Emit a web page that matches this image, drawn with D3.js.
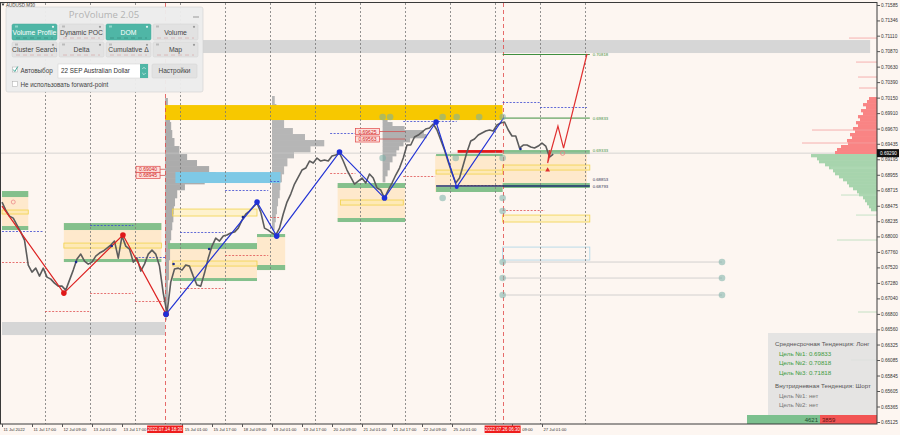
<!DOCTYPE html>
<html><head><meta charset="utf-8">
<script src="https://cdn.jsdelivr.net/npm/d3@7"></script>
<style>
body{margin:0;background:#fff;}
svg{display:block;font-family:"Liberation Sans","DejaVu Sans",Arial,sans-serif;}
</style>
</head><body>
<svg id="c" width="900" height="435"></svg>
<script>
// ---------------- DATA ----------------
const yTicks = [0.71585,0.71346,0.71110,0.70870,0.70630,0.70390,0.70150,0.69910,0.69670,0.69435,0.69195,0.68955,0.68715,0.68475,0.68235,0.68000,0.67760,0.67520,0.67280,0.67040,0.66800,0.66560,0.66325,0.66085,0.65845,0.65605,0.65365,0.65125];
const xLabelBars = [0,32,64,96,128,192,224,256,288,320,352,384,416,448,480,544,576];
const xLabels = ["11 Jul 2022","11 Jul 17:00","12 Jul 09:00","13 Jul 01:00","13 Jul 17:00","15 Jul 01:00","15 Jul 17:00","18 Jul 09:00","19 Jul 01:00","19 Jul 17:00","20 Jul 09:00","21 Jul 01:00","21 Jul 17:00","22 Jul 09:00","25 Jul 01:00","26 Jul 09:00","27 Jul 01:00"];
const daySeparatorBars = [46,94,142,190,238,286,334,382,430,478,526,574,622];
const highlightBars = [174,534];
const highlightLabels = ["2022.07.14 18:30","2022.07.26 06:30"];
const barStep = 4;
const priceClose = [0.68532,0.68408,0.68315,0.68284,0.68176,0.68067,0.67943,0.67556,0.67447,0.67509,0.67385,0.67509,0.67370,0.67339,0.67277,0.67230,0.67230,0.67168,0.67323,0.67478,0.67649,0.67726,0.67618,0.67571,0.67602,0.67695,0.67742,0.67773,0.67819,0.67866,0.67928,0.67664,0.68005,0.67850,0.67804,0.67602,0.67664,0.67463,0.67571,0.67726,0.67788,0.67726,0.67540,0.67122,0.66811,0.67292,0.67494,0.67509,0.67478,0.67556,0.67540,0.67385,0.67246,0.67230,0.67432,0.67664,0.67850,0.67974,0.67928,0.68005,0.68021,0.68052,0.68067,0.68129,0.68253,0.68346,0.68393,0.68455,0.68517,0.68377,0.68129,0.68098,0.68052,0.68021,0.68129,0.68346,0.68532,0.68656,0.68811,0.68920,0.69028,0.69059,0.69168,0.69137,0.69214,0.69168,0.69183,0.69168,0.69245,0.69261,0.69292,0.69168,0.69028,0.68920,0.68811,0.68858,0.68904,0.68827,0.68966,0.68904,0.68749,0.68718,0.68594,0.68718,0.68827,0.68951,0.69059,0.69214,0.69416,0.69416,0.69540,0.69571,0.69617,0.69664,0.69679,0.69741,0.69648,0.69493,0.69338,0.69152,0.68982,0.68827,0.68904,0.69106,0.69307,0.69478,0.69509,0.69571,0.69602,0.69633,0.69648,0.69633,0.69726,0.69757,0.69772,0.69648,0.69555,0.69555,0.69369,0.69416,0.69416,0.69385,0.69369,0.69400,0.69447,0.69400,0.69230,0.69276];
const currentPrice = 0.69290;

const zzRedBars = [0,66,129,175];
const zzRedPrices = [0.68470,0.67122,0.68021,0.66796];
const zzBlueBars = [175,272,293,360,408,463,485,535];
const zzBluePrices = [0.66796,0.68532,0.68005,0.69307,0.68594,0.69772,0.68765,0.69834];
const forecastBars = [584,582,593,599,624];
const forecastPrices = [0.69338,0.69137,0.69710,0.69369,0.70826];
const smallDotBars = [79,117,183,221,257,553];
const smallDotPrices = [0.67603,0.67851,0.67572,0.67804,0.68300,0.69354];

const targetLevels = [0.70818,0.69833,0.69333,0.68853,0.68793];
const targetLabels = ["0.70818","0.69833","0.69333","0.68853","0.68793"];

// zones: [barStart, barEnd, priceTop, priceBottom]
const grayBands = [[174,926,0.71042,0.70841],[0,174,0.66674,0.66472]];
const peachZones = [[0,28,0.68703,0.68114],[66,170,0.68207,0.67603],[177,272,0.67866,0.67324],[272,302,0.68006,0.67479],[358,430,0.68796,0.68238],[462,534,0.69261,0.68688],[534,624,0.69292,0.68781]];
const greenBands = [[0,28,0.68703,0.68610],[0,28,0.68161,0.68099],[66,170,0.68207,0.68099],[66,170,0.67650,0.67603],[177,272,0.67897,0.67804],[182,272,0.67355,0.67309],[272,302,0.68037,0.67990],[272,302,0.67557,0.67479],[358,430,0.68827,0.68750],[358,430,0.68285,0.68223],[463,534,0.68765,0.68688],[463,534,0.69276,0.69245],[534,627,0.69338,0.69276],[534,627,0.68827,0.68750]];
const yellowBoxes = [[0,28,0.68409,0.68347],[66,170,0.67897,0.67820],[182,272,0.68424,0.68316],[182,272,0.67619,0.67541],[361,428,0.68564,0.68486],[463,534,0.69028,0.68966],[534,627,0.69106,0.69028],[534,627,0.68331,0.68223]];
const blueBoxes = [[534,627,0.67835,0.67634]];
const goldBands = [[174,534,0.70035,0.69803]];
const skyBands = [[185,297,0.68997,0.68827]];
const redBars = [[486,534,0.69338,0.69292]];
const navyLines = [[463,627,0.68781]];

// dotted day high/low lines: [barStart, barEnd, price]
const dotBlue = [[0,44,0.68083],[94,140,0.68176],[142,175,0.67681],[190,236,0.68068],[238,284,0.68719],[286,297,0.68858],[350,377,0.69602],[428,485,0.69788],[534,574,0.70082],[574,624,0.70004]];
const dotRed = [[0,30,0.67603],[46,94,0.66844],[94,140,0.67123],[142,175,0.66999],[190,236,0.67200],[238,284,0.67712],[286,297,0.68300],[350,377,0.68982],[428,462,0.68935],[485,534,0.68796],[534,579,0.68409]];

// circle markers
const circleBars = [406,414,470,485,509,534,406,484,534,470,534,534,534,768,534,768,534,768];
const circlePrices = [0.69849,0.69849,0.69849,0.69849,0.69849,0.69849,0.69214,0.69214,0.69214,0.68595,0.68595,0.68393,0.67603,0.67603,0.67355,0.67355,0.67092,0.67092];
const gridLinePrices = [0.67603,0.67355,0.67092];

// volume profiles
const prof1Base = 174;
const prof1Levels = [0.70144,0.70020,0.69896,0.69772,0.69648,0.69524,0.69400,0.69276,0.69183,0.69090,0.68997,0.68904,0.68811,0.68719,0.68595,0.68471,0.68347,0.68223,0.68099,0.67944,0.67790,0.67635,0.67480,0.67325,0.67170,0.67015,0.66860];
const prof1Vol = [5,7,9,11,13,17,26,40,58,80,92,72,36,22,18,16,15,13,11,9,9,7,7,5,5,4,3];
const prof2Base = 288;
const prof2Levels = [0.70175,0.70051,0.69927,0.69803,0.69679,0.69586,0.69493,0.69400,0.69307,0.69214,0.69090,0.68966,0.68843,0.68719,0.68595,0.68471,0.68347,0.68223];
const prof2Vol = [5,8,13,22,38,60,95,70,40,28,22,18,15,14,11,9,7,5];
const prof3Base = 406;
const prof3Levels = [0.69834,0.69772,0.69710,0.69648,0.69586,0.69524,0.69462,0.69400,0.69338,0.69245,0.69152,0.69028,0.68935];
const prof3Vol = [9,18,40,75,80,50,38,30,25,18,13,9,5];

// price labels
const priceTags = ["0.69625","0.69563","0.69040","0.68945"];
const priceTagValues = [0.69625,0.69563,0.69040,0.68945];
const priceTagBars = [377,377,143,143];

// DOM (order book) on the right
const askLevels = [0.70159,0.70113,0.70066,0.70020,0.69973,0.69927,0.69880,0.69834,0.69787,0.69741,0.69695,0.69648,0.69602,0.69555,0.69509,0.69462,0.69416,0.69370,0.69323];
const askVol = [16,20,28,22,32,28,38,34,42,38,48,44,54,50,60,58,72,80,84];
const bidLevels = [0.69276,0.69230,0.69183,0.69137,0.69090,0.69044,0.68997,0.68951,0.68904,0.68858,0.68811,0.68765,0.68719,0.68672,0.68626,0.68579,0.68533,0.68486,0.68440];
const bidVol = [132,120,116,104,96,88,84,76,68,60,56,48,40,36,28,24,20,16,12];
const askThinLevels = [0.71073,0.70701,0.70469,0.70299,0.69648,0.69447];
const askThinVol = [56,42,38,36,130,150];
const bidThinLevels = [0.69059,0.68641,0.68331,0.67944,0.66829,0.66085];
const bidThinVol = [92,72,42,80,38,52];

const infoLines = ["Среднесрочная Тенденция: Лонг","Цель №1: 0.69833","Цель №2: 0.70818","Цель №3: 0.71818","Внутридневная Тенденция: Шорт","Цель №1: нет","Цель №2: нет"];
const infoKinds = ["head","target","target","target","head","none","none"];
const buyCount = "4621", sellCount = "3859";

const panelTitle = "ProVolume 2.05";
const buttonsRow1 = ["Volume Profile","Dynamic POC","DOM","Volume"];
const buttonsRow2 = ["Cluster Search","Delta","Cumulative Δ","Map"];
const buttonsActive1 = [true,false,true,false];
const instrument = "22 SEP Australian Dollar";

// ---------------- CHART ----------------
const svg = d3.select("#c");
const W = 900, H = 435;
const plotL = 0, plotR = 877, plotT = 3, plotB = 424;
const x = d3.scaleLinear().domain([0,932]).range([2,875.75]);
const y = d3.scaleLinear().domain([0.65125,0.71585]).range([422,5]);
const vol = d3.scaleLinear().domain([0,100]).range([0,55]);
const domVol = d3.scaleLinear().domain([0,100]).range([0,50]);

svg.append("rect").attr("width",W).attr("height",H).attr("fill","#fdf6f1");

const defs = svg.append("defs");
defs.append("clipPath").attr("id","plot")
  .append("rect").attr("x",plotL).attr("y",plotT).attr("width",plotR-plotL).attr("height",plotB-plotT);
const g = svg.append("g").attr("clip-path","url(#plot)");

function zones(data, fill, stroke, sw){
  g.append("g").selectAll("rect").data(data).join("rect")
    .attr("x",d=>x(d[0])).attr("width",d=>x(d[1])-x(d[0]))
    .attr("y",d=>y(d[2])).attr("height",d=>Math.max(1,y(d[3])-y(d[2])))
    .attr("fill",fill).attr("stroke",stroke||"none").attr("stroke-width",sw||0);
}

zones(grayBands,"#d6d6d6");
zones(peachZones,"rgba(255,214,150,0.4)");

// profiles
function profile(base, levels, vols, fill){
  const gg = g.append("g");
  levels.forEach((lv,i)=>{
    const y0 = y(lv);
    const y1 = i<levels.length-1 ? y(levels[i+1]) : y0 + (y0 - y(levels[i-1]));
    gg.append("rect").attr("x",x(base)).attr("y",y0).attr("width",vol(vols[i]))
      .attr("height",y1-y0+0.3).attr("fill",fill);
  });
}
profile(prof1Base,prof1Levels,prof1Vol,"#acacac");
profile(prof2Base,prof2Levels,prof2Vol,"#b6b6b6");
profile(prof3Base,prof3Levels,prof3Vol,"#b0b0b0");

zones(greenBands,"#84c08c");
zones(yellowBoxes,"rgba(255,236,140,0.35)","#f2d24a",0.8);
zones(blueBoxes,"none","#a9d4e8",0.8);
zones(goldBands,"#f7c800");
zones(skyBands,"#7ec9e6");
zones(redBars,"#e41818");

// day separators
g.append("g").selectAll("line").data(daySeparatorBars).join("line")
  .attr("x1",d=>Math.round(x(d))+0.5).attr("x2",d=>Math.round(x(d))+0.5)
  .attr("y1",plotT).attr("y2",plotB).attr("stroke","#777").attr("stroke-width",0.8)
  .attr("stroke-dasharray","2,2");
g.append("g").selectAll("line").data(highlightBars).join("line")
  .attr("x1",d=>Math.round(x(d))+0.5).attr("x2",d=>Math.round(x(d))+0.5)
  .attr("y1",plotT).attr("y2",plotB).attr("stroke","#e04848").attr("stroke-width",0.8)
  .attr("stroke-dasharray","4,3");

// dotted day lines
function dotted(data,color){
  g.append("g").selectAll("line").data(data).join("line")
    .attr("x1",d=>x(d[0])).attr("x2",d=>x(d[1]))
    .attr("y1",d=>Math.round(y(d[2]))+0.5).attr("y2",d=>Math.round(y(d[2]))+0.5)
    .attr("stroke",color).attr("stroke-width",0.8).attr("stroke-dasharray","2,1.5");
}
dotted(dotBlue,"#3a48d0");
dotted(dotRed,"#e05050");

// current price line
g.append("line").attr("x1",plotL).attr("x2",plotR).attr("y1",y(currentPrice)).attr("y2",y(currentPrice))
  .attr("stroke","#c4c4c4").attr("stroke-width",0.7);

// navy lines
g.append("g").selectAll("line").data(navyLines).join("line")
  .attr("x1",d=>x(d[0])).attr("x2",d=>x(d[1])).attr("y1",d=>y(d[2])).attr("y2",d=>y(d[2]))
  .attr("stroke","#1d2f6e").attr("stroke-width",1.3);

// target lines
const tColors = ["#3f8f3f","#3f8f3f","#8cc48f","#3a7a4a","#1d2f6e"];
targetLevels.forEach((lv,i)=>{
  if(i<2) g.append("line").attr("x1",x(534)).attr("x2",x(627)).attr("y1",y(lv)).attr("y2",y(lv))
    .attr("stroke",tColors[i]).attr("stroke-width",1);
  g.append("text").attr("x",x(630)).attr("y",y(lv)+ (i===3?-0.5:(i===4?3:1.5)))
    .attr("font-size",4.3).attr("fill",i>=3?"#335":"#3f8f3f").text(targetLabels[i]);
});

// grid circles lines
g.append("g").selectAll("line").data(gridLinePrices).join("line")
  .attr("x1",x(534)).attr("x2",x(768)).attr("y1",d=>y(d)).attr("y2",d=>y(d))
  .attr("stroke","#c6c6c6").attr("stroke-width",0.8);

// price line
const line = d3.line().x((d,i)=>x(i*barStep)).y(d=>y(d));
g.append("path").datum(priceClose).attr("d",line).attr("fill","none")
  .attr("stroke","#5c5c5c").attr("stroke-width",1.6).attr("stroke-linejoin","round");

// zigzags
const zl = d3.line().x(d=>x(d[0])).y(d=>y(d[1]));
const red = zzRedBars.map((b,i)=>[b,zzRedPrices[i]]);
const blue = zzBlueBars.map((b,i)=>[b,zzBluePrices[i]]);
const fc = forecastBars.map((b,i)=>[b,forecastPrices[i]]);
g.append("path").datum(red).attr("d",zl).attr("fill","none").attr("stroke","#dd2222").attr("stroke-width",1.2);
g.append("path").datum(blue).attr("d",zl).attr("fill","none").attr("stroke","#2233d4").attr("stroke-width",1.2);
g.append("path").datum(fc).attr("d",zl).attr("fill","none").attr("stroke","#e03030").attr("stroke-width",1.2);

// circles
g.append("g").selectAll("circle").data(circleBars).join("circle")
  .attr("cx",d=>x(d)).attr("cy",(d,i)=>y(circlePrices[i])).attr("r",3.3)
  .attr("fill","rgba(120,175,165,0.55)");

g.append("g").selectAll("circle").data(red.slice(1)).join("circle")
  .attr("cx",d=>x(d[0])).attr("cy",d=>y(d[1])).attr("r",2.8).attr("fill","#e01818");
g.append("g").selectAll("circle").data(blue.slice(0,7)).join("circle")
  .attr("cx",d=>x(d[0])).attr("cy",d=>y(d[1])).attr("r",(d,i)=>i===6?2:2.8).attr("fill","#1f30d8");
g.append("g").selectAll("circle").data(smallDotBars).join("circle")
  .attr("cx",d=>x(d)).attr("cy",(d,i)=>y(smallDotPrices[i])).attr("r",1.3).attr("fill","#1a2a90");
// forecast markers
g.append("path").attr("d",d3.symbol().type(d3.symbolTriangle).size(10)())
  .attr("transform",`translate(${x(582)},${y(0.69028)})`).attr("fill","#e03030");
g.append("circle").attr("cx",x(598)).attr("cy",y(0.69290)).attr("r",2.2)
  .attr("fill","none").attr("stroke","#e88080").attr("stroke-width",0.8);
g.append("circle").attr("cx",x(12)).attr("cy",y(0.68533)).attr("r",2)
  .attr("fill","none").attr("stroke","#ec8a8a").attr("stroke-width",0.8);

// price tags
priceTags.forEach((t,i)=>{
  const cy = y(priceTagValues[i]) + (i===1?3.5:0);
  const bx = x(priceTagBars[i]);
  const lx = i<2 ? x(430) : x(174);
  g.append("line").attr("x1",bx+24).attr("x2",lx).attr("y1",cy).attr("y2",cy)
    .attr("stroke","#d05050").attr("stroke-width",0.8);
  g.append("rect").attr("x",bx).attr("y",cy-3).attr("width",24).attr("height",6)
    .attr("fill","#fde0dc").attr("stroke","#e04848").attr("stroke-width",0.7);
  g.append("text").attr("x",bx+12).attr("y",cy+2).attr("text-anchor","middle")
    .attr("font-size",5).attr("fill","#d02020").text(t);
});

// DOM right profile
function dom(levels, vols, fill){
  levels.forEach((lv,i)=>{
    const y0 = y(lv);
    const y1 = i<levels.length-1 ? y(levels[i+1]) : y0 + (y0 - y(levels[i-1]));
    const w = domVol(vols[i]);
    g.append("rect").attr("x",plotR-w).attr("y",y0).attr("width",w).attr("height",y1-y0+0.3).attr("fill",fill);
  });
}
dom(askLevels,askVol,"#f98484");
dom(bidLevels,bidVol,"#a7d4ad");
askThinLevels.forEach((lv,i)=>{
  g.append("line").attr("x1",plotR-domVol(askThinVol[i])).attr("x2",plotR).attr("y1",y(lv)).attr("y2",y(lv))
    .attr("stroke","#f4a0a0").attr("stroke-width",0.8);
});
bidThinLevels.forEach((lv,i)=>{
  g.append("line").attr("x1",plotR-domVol(bidThinVol[i])).attr("x2",plotR).attr("y1",y(lv)).attr("y2",y(lv))
    .attr("stroke","#b6dcba").attr("stroke-width",0.8);
});

// info box
const ib = svg.append("g");
ib.append("rect").attr("x",768).attr("y",333).attr("width",plotR-768).attr("height",82).attr("fill","rgba(225,225,225,0.85)");
const infoY = [344,353.5,363,372.5,386,395.5,405];
infoLines.forEach((t,i)=>{
  ib.append("text").attr("x",infoKinds[i]==="head"?775:779).attr("y",infoY[i]+2)
    .attr("font-size",6.2).attr("fill",infoKinds[i]==="target"?"#3e9b3e":(infoKinds[i]==="head"?"#555":"#777")).text(t);
});
ib.append("rect").attr("x",747).attr("y",415).attr("width",73).attr("height",9).attr("fill","#7cc08e");
ib.append("rect").attr("x",820).attr("y",415).attr("width",plotR-820).attr("height",9).attr("fill","#f25454");
ib.append("text").attr("x",818).attr("y",422).attr("text-anchor","end").attr("font-size",6).attr("fill","#1f4f2f").text(buyCount);
ib.append("text").attr("x",822).attr("y",422).attr("font-size",6).attr("fill","#5a1010").text(sellCount);

// frame
svg.append("rect").attr("x",0.5).attr("y",2.5).attr("width",plotR-0.5).attr("height",plotB-2.5)
  .attr("fill","none").attr("stroke","#3a3a3a").attr("stroke-width",1);

// y axis
const ya = svg.append("g").attr("transform",`translate(${plotR},0)`)
  .call(d3.axisRight(y).tickValues(yTicks).tickFormat(d3.format(".5f")).tickSize(3).tickSizeOuter(0));
ya.select(".domain").remove();
ya.selectAll("text").attr("font-size",4.7).attr("fill","#333").attr("x",4);
ya.selectAll("line").attr("stroke","#555");
// current price label
svg.append("rect").attr("x",plotR).attr("y",y(currentPrice)-4).attr("width",22).attr("height",8).attr("fill","#111");
svg.append("text").attr("x",plotR+3).attr("y",y(currentPrice)+1.8).attr("font-size",4.7).attr("fill","#fff").text(currentPrice.toFixed(5));

// x axis
const xa = svg.append("g").attr("transform",`translate(0,${plotB})`)
  .call(d3.axisBottom(x).tickValues(xLabelBars).tickFormat((d,i)=>xLabels[i]).tickSize(3).tickSizeOuter(0));
xa.select(".domain").remove();
xa.selectAll("text").attr("font-size",4.2).attr("fill","#333").attr("text-anchor","start").attr("dx",1).attr("y",4);
xa.selectAll("line").attr("stroke","#555");
// labels partly hidden under the highlight boxes: shown right after the box
const boxHalf = 18;
xa.selectAll(".tick").filter(d=>d===192).select("text").attr("dx",x(174)+boxHalf-x(192)+1);
xa.selectAll(".tick").filter(d=>d===544).select("text")
  .attr("dx",x(534)+boxHalf-x(544)+1).text("09:00");

highlightBars.forEach((b,i)=>{
  const cx = x(b);
  svg.append("rect").attr("x",cx-boxHalf).attr("y",plotB+1.5).attr("width",boxHalf*2).attr("height",7.5).attr("fill","#ee1c1c");
  svg.append("text").attr("x",cx).attr("y",plotB+7).attr("text-anchor","middle").attr("font-size",4.5).attr("fill","#fff").text(highlightLabels[i]);
});

// symbol label
svg.append("text").attr("x",6).attr("y",6.5).attr("font-size",4.5).attr("fill","#333").text("AUDUSD,M30");
svg.append("path").attr("d","M1.5,3.5 L4.5,3.5 L3,6 Z").attr("fill","#333");

// ---------------- PANEL ----------------
const p = svg.append("g");
p.append("rect").attr("x",6).attr("y",7).attr("width",197).attr("height",85).attr("rx",2)
  .attr("fill","rgba(236,236,236,0.96)").attr("stroke","#d0d0d0").attr("stroke-width",0.6);
p.append("text").attr("x",104).attr("y",17.5).attr("text-anchor","middle").attr("font-size",9.5)
  .attr("fill","#b3b3b3").attr("font-family","Open Sans, Liberation Sans").text(panelTitle);
p.append("line").attr("x1",193).attr("x2",199).attr("y1",17).attr("y2",17).attr("stroke","#999").attr("stroke-width",1);
const bx = [12,59,106,153], bw = 45;
function button(xx,yy,w,h,label,active){
  p.append("rect").attr("x",xx).attr("y",yy).attr("width",w).attr("height",h).attr("rx",1.5)
    .attr("fill",active?"#4fb6a6":"#e2e2e2").attr("stroke",active?"#47a898":"#d2d2d2").attr("stroke-width",0.5);
  p.append("text").attr("x",xx+w/2).attr("y",yy+h/2+2.6).attr("text-anchor","middle").attr("font-size",6.8)
    .attr("fill",active?"#fff":"#444").text(label);
  p.append("rect").attr("x",xx+3).attr("y",yy+1.5).attr("width",3).attr("height",2).attr("fill",active?"#8fd6ca":"#bbb");
  p.append("circle").attr("cx",xx+w-4).attr("cy",yy+2.8).attr("r",1.1).attr("fill",active?"#e8f6f3":"#999");
  p.append("line").attr("x1",xx+4).attr("x2",xx+w-4).attr("y1",yy+h-2).attr("y2",yy+h-2)
    .attr("stroke",active?"#3b8f83":"#d8b0b0").attr("stroke-width",0.8).attr("stroke-dasharray","4,3");
}
buttonsRow1.forEach((b,i)=>button(bx[i],24,bw,16,b,buttonsActive1[i]));
buttonsRow2.forEach((b,i)=>button(bx[i],42,bw,15,b,false));
// checkbox row
p.append("rect").attr("x",12.5).attr("y",67).attr("width",5).attr("height",5).attr("fill","#fff").attr("stroke","#aaa").attr("stroke-width",0.5);
p.append("path").attr("d","M13.2,69.5 L14.8,71.5 L17.8,66.5").attr("fill","none").attr("stroke","#3fa897").attr("stroke-width",1);
p.append("text").attr("x",20.5).attr("y",72.5).attr("font-size",6.3).attr("fill","#444").text("Автовыбор");
p.append("rect").attr("x",58).attr("y",64).attr("width",90).attr("height",14).attr("fill","#fff").attr("stroke","#d0d0d0").attr("stroke-width",0.5);
p.append("text").attr("x",61).attr("y",73.2).attr("font-size",6.3).attr("fill","#333").text(instrument);
p.append("rect").attr("x",140).attr("y",64).attr("width",8).attr("height",14).attr("fill","#4fb6a6");
p.append("path").attr("d","M142.3,69 L144,67.3 L145.7,69 M142.3,73 L144,74.7 L145.7,73").attr("fill","none").attr("stroke","#fff").attr("stroke-width",0.6);
p.append("rect").attr("x",152).attr("y",64).attr("width",45).attr("height",14).attr("rx",1.5).attr("fill","#e2e2e2").attr("stroke","#d0d0d0").attr("stroke-width",0.5);
p.append("text").attr("x",174.5).attr("y",73.2).attr("text-anchor","middle").attr("font-size",6.5).attr("fill","#444").text("Настройки");
p.append("rect").attr("x",12.5).attr("y",81.5).attr("width",5).attr("height",5).attr("fill","#fff").attr("stroke","#aaa").attr("stroke-width",0.5);
p.append("text").attr("x",20.5).attr("y",86.5).attr("font-size",6.3).attr("fill","#444").text("Не использовать forward-point");
</script>
</body></html>
